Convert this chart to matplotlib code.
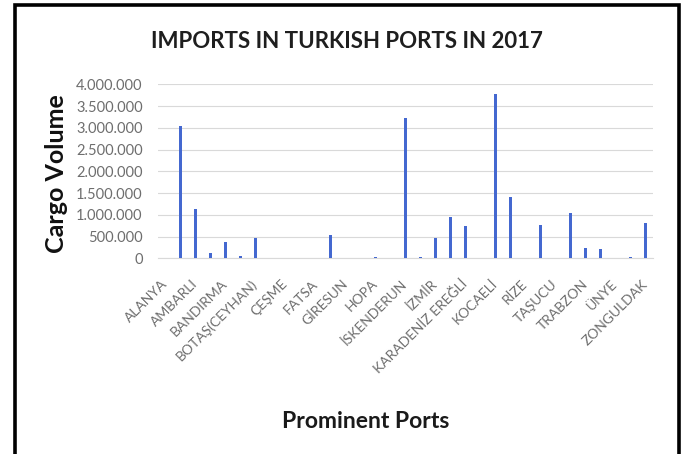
#!/usr/bin/env python3
"""
Imports in Turkish ports in 2017, column chart.
"""

import matplotlib
matplotlib.use("Agg")
import matplotlib.pyplot as plt
from matplotlib.patches import Rectangle
from matplotlib.ticker import FuncFormatter

# one value per category slot; only every other slot carries a label
cargo_volume = [
    0, 3030000, 1130000, 130000, 370000, 60000, 460000, 0, 0, 0,
    0, 540000, 0, 0, 20000, 0, 3230000, 20000, 460000, 940000,
    740000, 0, 3780000, 1400000, 0, 770000, 0, 1040000, 230000, 210000,
    0, 20000, 810000,
]
port_labels = [
    "ALANYA", "AMBARLI", "BANDIRMA", "BOTAŞ(CEYHAN)", "ÇEŞME", "FATSA",
    "GİRESUN", "HOPA", "İSKENDERUN", "İZMİR", "KARADENİZ EREĞLİ",
    "KOCAELİ", "RİZE", "TAŞUCU", "TRABZON", "ÜNYE", "ZONGULDAK",
]
y_ticks = [0, 500000, 1000000, 1500000, 2000000, 2500000, 3000000,
           3500000, 4000000]

W, H = 683, 454
plt.rcParams['font.family'] = ['Lato', 'DejaVu Sans']

fig = plt.figure(figsize=(W / 100, H / 100), dpi=100)

# plot area, placed in pixel terms
left, right, top, base = 158, 653, 84.3, 258.3
ax = fig.add_axes([left / W, 1 - base / H, (right - left) / W, (base - top) / H])

x = list(range(len(cargo_volume)))
ax.bar(x, cargo_volume, width=0.22, color='#4468D0', zorder=3)

ax.set_xlim(-0.5, len(cargo_volume) - 0.5)
ax.set_ylim(0, 4000000)
ax.set_yticks(y_ticks)
ax.yaxis.set_major_formatter(
    FuncFormatter(lambda v, p: f"{int(v):,}".replace(",", ".")))
ax.set_xticks(x[::2])
ax.set_xticklabels(port_labels, rotation=45, ha='right',
                   rotation_mode='anchor', va='center')

ax.tick_params(axis='y', length=0, pad=11, labelsize=10.5, labelcolor='#6e6e6e')
ax.tick_params(axis='x', length=0, pad=17, labelsize=10, labelcolor='#6e6e6e')
ax.grid(axis='y', color='#d9d9d9', linewidth=0.8, zorder=0)
for side in ['top', 'right', 'left']:
    ax.spines[side].set_visible(False)
ax.spines['bottom'].set_color('#d9d9d9')

# title and axis titles
fig.text(347 / W, 1 - 42 / H, "IMPORTS IN TURKISH PORTS IN 2017",
         ha='center', va='center', fontsize=16, fontweight='bold',
         color='#1e1e1e')
fig.text(57 / W, 1 - 174 / H, "Cargo Volume", rotation=90,
         ha='center', va='center', fontsize=18, fontweight='bold',
         color='#111111')
fig.text(366 / W, 1 - 421 / H, "Prominent Ports",
         ha='center', va='center', fontsize=16.5, fontweight='bold',
         color='#1a1a1a')

# black frame around the chart
fig.patches.append(Rectangle((15 / W, -0.05), 664 / W, 1.05 - 5.5 / H,
                             transform=fig.transFigure, fill=False,
                             edgecolor='black', linewidth=2.6))

fig.savefig("out.png", dpi=100)
